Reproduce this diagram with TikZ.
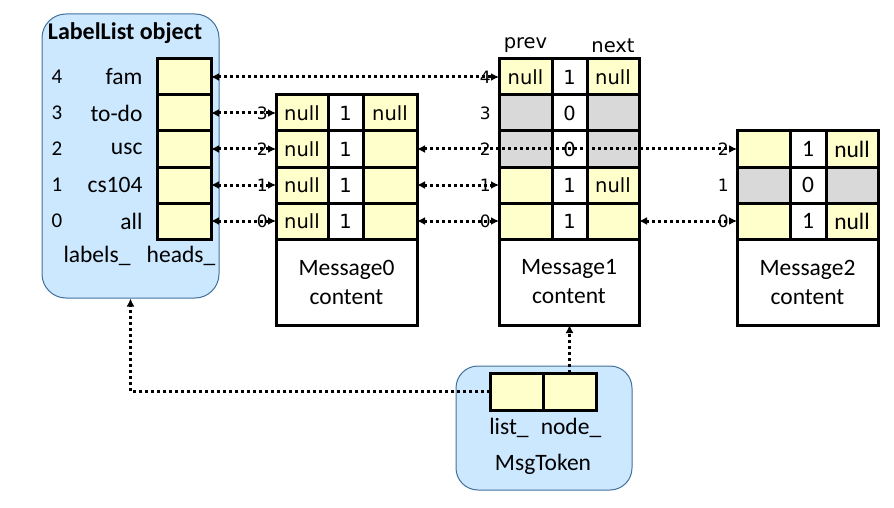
\documentclass[tikz,border=0pt]{standalone}
\usepackage{fontspec}
\setmainfont{Carlito}
\newfontfamily\dejavu{DejaVu Sans}
\usetikzlibrary{arrows.meta,positioning}
\definecolor{cellyellow}{RGB}{255,255,204}
\definecolor{cellgrey}{RGB}{217,217,217}
\definecolor{objblue}{RGB}{204,232,255}
\definecolor{objline}{RGB}{65,113,156}

\begin{document}
\begin{tikzpicture}[
    x=1pt, y=-1pt,
    font=\fontsize{23.5}{29}\selectfont,
    cell/.style={draw, line width=3pt, inner sep=0pt, outer sep=0pt, minimum height=36pt},
    side/.style={cell, fill=cellyellow, minimum width=53pt},
    cnt/.style={cell, fill=white, minimum width=35pt},
    content/.style={cell, fill=white, minimum width=141pt, minimum height=86pt, align=center},
    obj/.style={draw=objline, line width=1pt, fill=objblue, rounded corners=24pt},
    dv/.style={font=\dejavu\fontsize{19.5}{23}\selectfont},
    idx/.style={inner sep=0pt, font=\dejavu\fontsize{17}{20}\selectfont},
    link/.style={line width=3pt, dash pattern=on 3pt off 3pt, {Latex[length=8pt,width=8pt]}-{Latex[length=8pt,width=8pt]}},
    ptr/.style={line width=3pt, dash pattern=on 3pt off 3pt, -{Latex[length=8pt,width=8pt]}}
  ]
    \useasboundingbox (0,0) rectangle (894,508);

    % LabelList object
    \node[obj, minimum width=177pt, minimum height=284pt] (ll) at (130.5,156) {};
    \node[font=\bfseries\fontsize{24}{28}\selectfont] (lltitle) at (125,33) {LabelList object};
    \foreach \lv/\lab/\y in {4/fam/77, 3/to-do/113, 2/usc/149, 1/cs104/185, 0/all/221} {
      \node[side, minimum width=54pt] (h\lv) at (184,\y) {};
      \node[anchor=east] (hl\lv) at (146,\y) {\lab};
      \node[font=\fontsize{21}{24}\selectfont] (hn\lv) at (57,\y) {\lv};
    }
    \node (labels) at (97,256) {labels\_};
    \node (heads) at (181,256) {heads\_};

    % Message0
    \foreach \lv/\y/\p/\nx in {3/113/null/null, 2/149/null/, 1/185/null/, 0/221/null/} {
      \node[side, dv, minimum width=52pt] (m0p\lv) at (302,\y) {\p};
      \node[cnt, dv, right=0pt of m0p\lv] (m0c\lv) {1};
      \node[side, dv, minimum width=54pt, right=0pt of m0c\lv] (m0n\lv) {\nx};
    }
    \node[content, below right=0pt of m0p0.south west] (m0body) {Message0\\content};

    % Message1
    \foreach \lv/\y/\p/\c/\nx/\fc in {4/77/null/1/null/cellyellow, 3/113//0//cellgrey,
        2/149//0//cellgrey, 1/185//1/null/cellyellow, 0/221//1//cellyellow} {
      \node[side, dv, fill=\fc] (m1p\lv) at (525.5,\y) {\p};
      \node[cnt, dv, right=0pt of m1p\lv] (m1c\lv) {\c};
      \node[side, dv, minimum width=52pt, fill=\fc, right=0pt of m1c\lv] (m1n\lv) {\nx};
    }
    \node[content, below right=0pt of m1p0.south west, minimum width=140pt] (m1body) {Message1\\content};
    \node[dv, above=3pt of m1p4] (prevlab) {prev};
    \node[dv, above=3pt of m1n4] (nextlab) {next};

    % Message2
    \foreach \lv/\y/\c/\nx/\fc in {2/149/1/null/cellyellow, 1/185/0//cellgrey, 0/221/1/null/cellyellow} {
      \node[side, fill=\fc] (m2p\lv) at (763.5,\y) {};
      \node[cnt, minimum width=36pt, right=0pt of m2p\lv] (m2c\lv) {\c};
      \node[side, minimum width=52pt, fill=\fc, right=0pt of m2c\lv] (m2n\lv) {\nx};
    }
    \node[content, below right=0pt of m2p0.south west] (m2body) {Message2\\content};

    % level links
    \foreach \lv in {3,2,1,0}
      \draw[link] (h\lv.east) -- (m0p\lv.west);
    \draw[link] (h4.east) -- (m1p4.west);
    \draw[link] (m0n2.east) -- (m2p2.west);
    \foreach \lv in {1,0}
      \draw[link] (m0n\lv.east) -- (m1p\lv.west);
    \draw[link] (m1n0.east) -- (m2p0.west);

    % level numbers
    \foreach \lv in {3,2,1,0}
      \node[idx, left=8pt of m0p\lv.west] (m0i\lv) {\lv};
    \foreach \lv in {4,3,2,1,0}
      \node[idx, left=8pt of m1p\lv.west] (m1i\lv) {\lv};
    \foreach \lv in {2,1,0}
      \node[idx, left=8pt of m2p\lv.west] (m2i\lv) {\lv};

    % MsgToken
    \node[obj, rounded corners=22pt, minimum width=176pt, minimum height=124pt] (tok) at (544,428) {};
    \node[side, minimum height=37pt] (tl) at (516.5,391.5) {};
    \node[side, minimum height=37pt, right=0pt of tl] (tn) {};
    \node (tll) at (509,428) {list\_};
    \node (tnl) at (571,428) {node\_};
    \node (tokname) at (543,464) {MsgToken};

    \draw[ptr] (tl.west) -| (ll.south);
    \draw[ptr] (tn.north) -- (tn.north |- m1body.south);
  \end{tikzpicture}
\end{document}
